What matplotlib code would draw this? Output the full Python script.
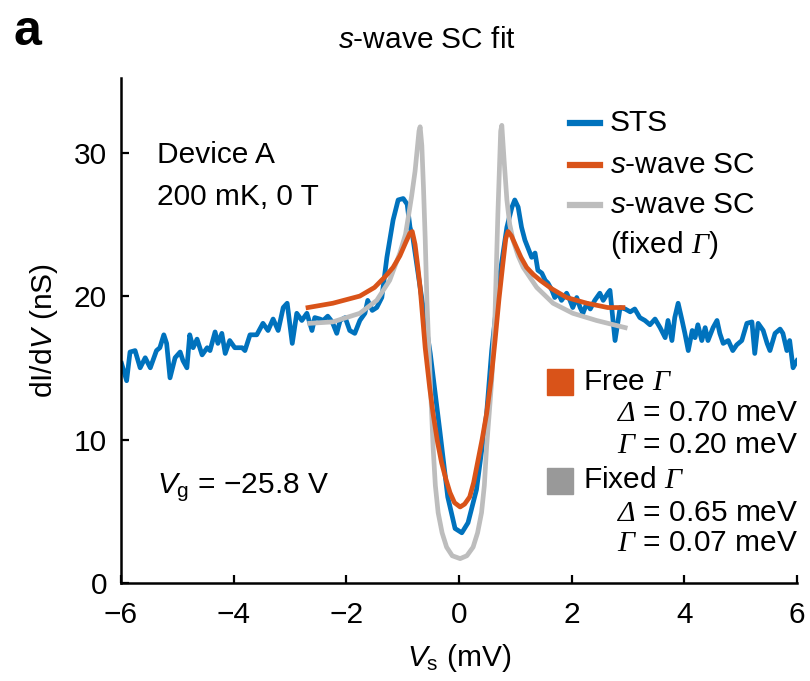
import matplotlib
matplotlib.use("Agg")
import matplotlib.pyplot as plt

# ----------------------------
# dati
# ----------------------------
# STS (blu)
vs_sts = [-5.99, -5.90, -5.84, -5.75, -5.66, -5.57, -5.48, -5.37, -5.31, -5.24,
          -5.19, -5.13, -5.04, -4.95, -4.90, -4.83, -4.78, -4.72, -4.65, -4.56,
          -4.47, -4.42, -4.33, -4.28, -4.21, -4.15, -4.07, -3.98, -3.85, -3.80,
          -3.71, -3.59, -3.48, -3.39, -3.30, -3.21, -3.12, -3.05, -2.96, -2.88,
          -2.79, -2.70, -2.61, -2.56, -2.47, -2.41, -2.33, -2.25, -2.17, -2.11,
          -2.02, -1.94, -1.85, -1.76, -1.67, -1.62, -1.54, -1.46, -1.37, -1.28,
          -1.17, -1.08, -0.99, -0.92, -0.87, -0.82, -0.69, -0.51, -0.34, -0.20,
          -0.07, 0.05, 0.16, 0.31, 0.49, 0.58, 0.73, 0.85, 0.94, 0.99,
          1.05, 1.11, 1.17, 1.22, 1.29, 1.35, 1.40, 1.47, 1.53, 1.58,
          1.65, 1.70, 1.76, 1.82, 1.91, 1.97, 2.02, 2.09, 2.15, 2.20,
          2.27, 2.33, 2.41, 2.50, 2.56, 2.64, 2.68, 2.77, 2.86, 2.95,
          3.04, 3.12, 3.21, 3.30, 3.39, 3.48, 3.57, 3.66, 3.71, 3.78,
          3.83, 3.89, 3.96, 4.01, 4.07, 4.14, 4.19, 4.24, 4.31, 4.37,
          4.42, 4.51, 4.58, 4.63, 4.69, 4.78, 4.86, 4.93, 5.02, 5.11,
          5.20, 5.25, 5.31, 5.40, 5.47, 5.52, 5.61, 5.70, 5.75, 5.82,
          5.87, 5.93, 6.00]
g_sts = [15.3, 14.1, 16.1, 16.2, 15.0, 15.7, 15.0, 16.2, 16.4, 17.3,
         16.7, 14.3, 15.7, 16.1, 15.5, 15.0, 17.3, 16.4, 17.0, 15.9,
         16.4, 16.2, 17.5, 16.7, 17.4, 16.0, 16.9, 16.4, 16.4, 16.2,
         17.3, 17.3, 18.1, 17.6, 18.4, 17.6, 19.2, 19.5, 16.7, 18.8,
         18.3, 18.8, 17.6, 18.5, 18.4, 18.3, 18.6, 18.2, 17.4, 18.3,
         18.5, 17.6, 17.4, 18.3, 18.8, 19.7, 19.0, 19.2, 19.9, 22.7,
         25.3, 26.7, 26.8, 26.4, 24.8, 24.1, 20.6, 16.0, 10.6, 6.0,
         3.8, 3.5, 4.2, 6.5, 11.8, 16.2, 21.6, 24.8, 26.2, 26.7,
         26.2, 24.8, 23.9, 23.4, 22.7, 23.0, 21.8, 21.6, 21.1, 20.9,
         20.4, 19.9, 20.2, 19.7, 20.2, 19.7, 19.2, 19.9, 19.2, 18.8,
         19.5, 19.1, 19.7, 20.2, 19.7, 20.2, 20.4, 16.9, 19.2, 19.1,
         18.9, 19.1, 18.5, 18.3, 18.0, 18.4, 17.8, 17.1, 18.3, 16.9,
         18.5, 19.5, 18.3, 17.4, 16.2, 17.6, 17.1, 18.0, 16.9, 17.8,
         16.9, 17.8, 18.3, 17.4, 16.7, 16.9, 16.2, 16.6, 16.9, 18.1,
         18.2, 16.0, 18.1, 17.6, 16.7, 16.2, 17.4, 17.7, 17.4, 16.2,
         16.9, 15.0, 15.5]

# fit s-wave, Gamma libero (arancio)
vs_free = [-2.68, -2.24, -1.76, -1.50, -1.30, -1.17, -1.05, -0.95, -0.87, -0.83,
           -0.78, -0.73, -0.69, -0.60, -0.52, -0.46, -0.38, -0.31, -0.23, -0.16,
           -0.08, 0.02, 0.10, 0.19, 0.26, 0.33, 0.41, 0.49, 0.57, 0.64,
           0.71, 0.78, 0.83, 0.87, 0.93, 1.02, 1.10, 1.20, 1.32, 1.44,
           1.65, 1.91, 2.27, 2.64, 2.91]
g_free = [19.2, 19.5, 20.0, 20.6, 21.4, 22.0, 22.8, 23.7, 24.4, 24.5,
          23.6, 22.0, 20.6, 16.4, 13.6, 11.8, 9.8, 8.4, 7.2, 6.3,
          5.6, 5.3, 5.5, 6.0, 7.0, 8.4, 10.0, 11.8, 14.2, 16.9,
          19.8, 22.3, 24.0, 24.5, 24.2, 23.4, 22.7, 22.0, 21.5, 21.1,
          20.5, 19.9, 19.5, 19.2, 19.2]

# fit s-wave, Gamma fisso (grigio)
vs_fixed = [-2.65, -2.24, -1.76, -1.46, -1.23, -1.05, -0.95, -0.90, -0.84, -0.78,
            -0.74, -0.71, -0.69, -0.66, -0.63, -0.60, -0.57, -0.54, -0.51, -0.46,
            -0.42, -0.37, -0.30, -0.22, -0.12, 0.02, 0.14, 0.25, 0.33, 0.40,
            0.45, 0.49, 0.54, 0.58, 0.64, 0.69, 0.74, 0.76, 0.80, 0.85,
            0.90, 0.96, 1.05, 1.14, 1.38, 1.67, 2.02, 2.44, 2.95]
g_fixed = [18.1, 18.2, 18.8, 19.7, 21.1, 23.0, 24.3, 25.5, 27.0, 28.7,
           30.3, 31.5, 31.8, 30.5, 27.5, 24.0, 19.7, 16.8, 14.1, 9.5,
           6.8, 4.9, 3.5, 2.5, 1.9, 1.7, 1.9, 2.5, 3.5, 4.9,
           6.8, 9.5, 12.0, 14.1, 18.8, 25.7, 31.5, 31.9, 29.5, 26.7,
           25.0, 23.9, 22.8, 22.0, 20.6, 19.5, 18.8, 18.3, 17.8]

xticks = [-6, -4, -2, 0, 2, 4, 6]
yticks = [0, 10, 20, 30]

BLUE = "#0072BD"
ORANGE = "#D95319"
GREY = "#BDBDBD"

plt.rcParams["font.family"] = ["Liberation Sans", "DejaVu Sans"]
plt.rcParams["mathtext.fontset"] = "custom"
plt.rcParams["mathtext.rm"] = "Liberation Sans"
plt.rcParams["mathtext.it"] = "Liberation Sans:italic"
plt.rcParams["mathtext.sf"] = "Liberation Serif:italic"

FS = 21.5
LW = 3.4

fig = plt.figure(figsize=(8.1, 6.81), dpi=100)
ax = fig.add_axes([121 / 810, 1 - 583 / 681, 676 / 810, 505 / 681])

ax.plot(vs_sts, g_sts, color=BLUE, lw=LW, solid_joinstyle="round")
ax.plot(vs_fixed, g_fixed, color=GREY, lw=LW, solid_joinstyle="round")
ax.plot(vs_free, g_free, color=ORANGE, lw=LW, solid_joinstyle="round")

ax.set_xlim(-6, 6)
ax.set_ylim(0, 35.2)
ax.set_xticks(xticks)
ax.set_yticks(yticks)
ax.tick_params(direction="in", length=6, width=1.6, labelsize=FS)
ax.tick_params(axis="x", pad=13)
ax.tick_params(axis="y", pad=10)
for s in ["top", "right"]:
    ax.spines[s].set_visible(False)
for s in ["left", "bottom"]:
    ax.spines[s].set_linewidth(1.8)

ax.set_xlabel(r"$\mathit{V}_{\mathrm{s}}$ (mV)", fontsize=FS, labelpad=9)
ax.set_ylabel(r"dI/d$\mathit{V}$ (nS)", fontsize=FS, labelpad=10)

fig.text(427 / 810, 1 - 40 / 681, r"$\mathit{s}$-wave SC fit", fontsize=FS,
         ha="center", va="center")
fig.text(13 / 810, 1 - 32 / 681, "a", fontsize=36, weight="bold",
         ha="left", va="center")

# annotazioni a sinistra
ax.text(0.053, 0.848, "Device A", fontsize=FS, transform=ax.transAxes, va="center")
ax.text(0.053, 0.764, "200 mK, 0 T", fontsize=FS, transform=ax.transAxes, va="center")
ax.text(0.053, 0.188, r"$\mathit{V}_{\mathrm{g}}$ = $-$25.8 V", fontsize=FS,
        transform=ax.transAxes, va="center")

# legenda manuale
leg_rows = [(BLUE, "STS", 0.911), (ORANGE, r"$\mathit{s}$-wave SC", 0.828),
            (GREY, r"$\mathit{s}$-wave SC", 0.749)]
for col, lab, yy in leg_rows:
    ax.plot([0.664, 0.709], [yy, yy], color=col, lw=4.5, transform=ax.transAxes,
            clip_on=False)
    ax.text(0.723, yy, lab, fontsize=FS, transform=ax.transAxes, va="center")
ax.text(0.723, 0.669, r"(fixed $\mathsf{\Gamma}$)", fontsize=FS,
        transform=ax.transAxes, va="center")

# parametri dei fit
ax.plot([0.649], [0.398], marker="s", ms=19, color=ORANGE, transform=ax.transAxes,
        clip_on=False)
ax.plot([0.649], [0.202], marker="s", ms=19, color="#999999", transform=ax.transAxes,
        clip_on=False)
ax.text(0.683, 0.398, r"Free $\mathsf{\Gamma}$", fontsize=FS, transform=ax.transAxes,
        va="center")
ax.text(0.683, 0.204, r"Fixed $\mathsf{\Gamma}$", fontsize=FS, transform=ax.transAxes,
        va="center")
params = [(r"$\mathsf{\Delta}$ = 0.70 meV", 0.337), (r"$\mathsf{\Gamma}$ = 0.20 meV", 0.273),
          (r"$\mathsf{\Delta}$ = 0.65 meV", 0.139), (r"$\mathsf{\Gamma}$ = 0.07 meV", 0.079)]
for lab, yy in params:
    ax.text(1.0015, yy, lab, fontsize=FS, transform=ax.transAxes, va="center", ha="right")

fig.savefig("out.png", dpi=100)
